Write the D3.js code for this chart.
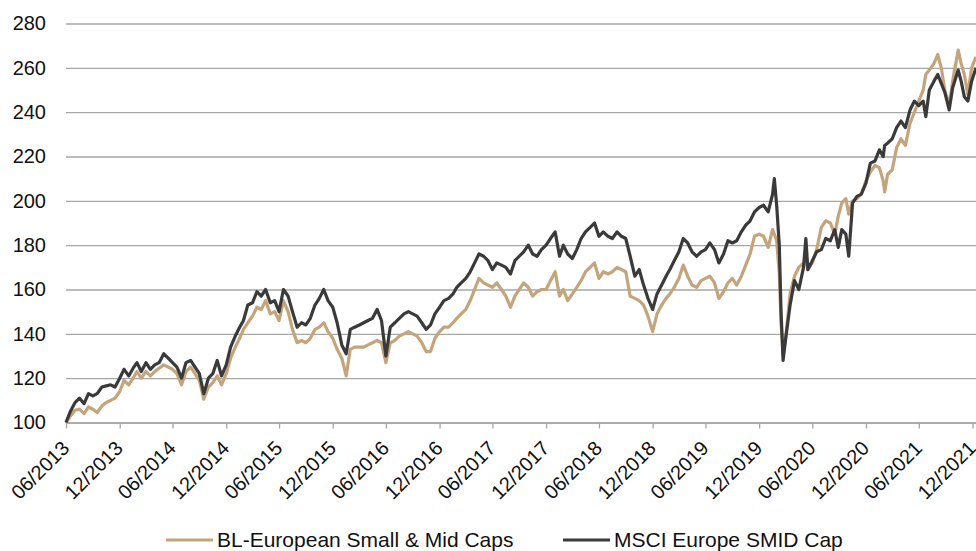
<!DOCTYPE html>
<html>
<head>
<meta charset="utf-8">
<script src="https://cdn.jsdelivr.net/npm/d3@7"></script>
<style>
  body { margin: 0; background: #fff; }
  svg text { font-family: "Liberation Sans", Arial, sans-serif; fill: #111; }
</style>
</head>
<body>
<svg id="chart" width="976" height="551"></svg>
<script>
// series names (legend order)
var seriesNames = ["BL-European Small & Mid Caps", "MSCI Europe SMID Cap"];

// observation dates, read off the chart roughly twice a month
var dates = [
  "2013-06-30","2013-07-15","2013-07-31","2013-08-15","2013-08-31","2013-09-15","2013-09-30","2013-10-15","2013-10-31","2013-11-15","2013-11-30","2013-12-15","2013-12-31",
  "2014-01-15","2014-01-31","2014-02-15","2014-02-28","2014-03-15","2014-03-31","2014-04-15","2014-04-30","2014-05-15","2014-05-31","2014-06-15","2014-06-30",
  "2014-07-15","2014-07-31","2014-08-15","2014-08-31","2014-09-15","2014-09-30","2014-10-15","2014-10-31","2014-11-15","2014-11-30","2014-12-15","2014-12-31",
  "2015-01-15","2015-01-31","2015-02-15","2015-02-28","2015-03-15","2015-03-31","2015-04-15","2015-04-30","2015-05-15","2015-05-31","2015-06-15","2015-06-30",
  "2015-07-15","2015-07-31","2015-08-15","2015-08-31","2015-09-15","2015-09-30","2015-10-15","2015-10-31","2015-11-15","2015-11-30","2015-12-15","2015-12-31",
  "2016-01-15","2016-01-31","2016-02-15","2016-02-29","2016-03-15","2016-03-31","2016-04-15","2016-04-30","2016-05-15","2016-05-31","2016-06-15","2016-06-30",
  "2016-07-15","2016-07-31","2016-08-15","2016-08-31","2016-09-15","2016-09-30","2016-10-15","2016-10-31","2016-11-15","2016-11-30","2016-12-15","2016-12-31",
  "2017-01-15","2017-01-31","2017-02-15","2017-02-28","2017-03-15","2017-03-31","2017-04-15","2017-04-30","2017-05-15","2017-05-31","2017-06-15","2017-06-30",
  "2017-07-15","2017-07-31","2017-08-15","2017-08-31","2017-09-15","2017-09-30","2017-10-15","2017-10-31","2017-11-15","2017-11-30","2017-12-15","2017-12-31",
  "2018-01-15","2018-01-31","2018-02-15","2018-02-28","2018-03-15","2018-03-31","2018-04-15","2018-04-30","2018-05-15","2018-05-31","2018-06-15","2018-06-30",
  "2018-07-15","2018-07-31","2018-08-15","2018-08-31","2018-09-15","2018-09-30","2018-10-15","2018-10-31","2018-11-15","2018-11-30","2018-12-15","2018-12-31",
  "2019-01-15","2019-01-31","2019-02-15","2019-02-28","2019-03-15","2019-03-31","2019-04-15","2019-04-30","2019-05-15","2019-05-31","2019-06-15","2019-06-30",
  "2019-07-15","2019-07-31","2019-08-15","2019-08-31","2019-09-15","2019-09-30","2019-10-15","2019-10-31","2019-11-15","2019-11-30","2019-12-15","2019-12-31",
  "2020-01-15","2020-01-31","2020-02-15","2020-02-21","2020-02-29","2020-03-09","2020-03-15","2020-03-22",
  "2020-03-31","2020-04-15","2020-04-30","2020-05-15","2020-05-31","2020-06-08","2020-06-15","2020-06-30","2020-07-15","2020-07-31",
  "2020-08-15","2020-08-31","2020-09-15","2020-09-27","2020-10-09","2020-10-23","2020-11-02","2020-11-15","2020-11-30","2020-12-15","2020-12-31",
  "2021-01-15","2021-01-31","2021-02-15","2021-02-28","2021-03-05","2021-03-15","2021-03-31","2021-04-15","2021-04-30","2021-05-15",
  "2021-05-31","2021-06-15","2021-06-30","2021-07-15","2021-07-24","2021-08-05","2021-08-21","2021-09-03","2021-09-15","2021-09-27",
  "2021-10-12","2021-10-24","2021-11-12","2021-11-22","2021-12-03","2021-12-15","2021-12-28","2022-01-12"
];

var blValues = [
  100,103,105.5,106,104,107,106,104.5,107.5,109,110,111,114,
  119,117,120,123,120,123,121,123,124.5,126,125,124,
  122,117,123,125,122,119,110.5,116,118,121,117,122,
  129,134,138,142,145,148,152,151,155,149,150,146,
  155,150,142,136,137,136,138,142,143,145,141,138,
  133,129,121,133,134,134,134,135,136,137,136,127,
  136,137,139,140,141,140,139,136,132,132,138,141,
  143,143,145,147,149,151,155,160,165,163,162,161,
  163,160,157,152,157,160,163,161,157,159,160,160,
  164,168,157,160,155,158,161,164,168,170,172,165,
  168,167,168,170,169,168,157,156,155,153,148,141,
  149,153,156,158,161,165,171,166,162,161,164,165,
  166,163,156,159,163,165,162,166,171,176,184,185,
  184,179,187,185,182,167,145,131,
  138,158,166,170,172,173,169,172,178,188,
  191,190,185,193,199,201,194,200,201,203,209,
  213,216,215,209,204,212,214,224,228,225,
  235,240,245,250,257,259,262,266,260,250,
  243,254,268,262,257,248,260,265
];

var msciValues = [
  100,105,109,111,108.5,113,112,113,116,116.5,117,116,120,
  124,121,124.5,127,123,127,124,126,127,131,129,127,
  125,120,127,128,125,122,113,120,122,128,121,126,
  134,139,143,146,153,154,159,157,160,154,155,150,
  160,157,150,143,145,144,147,153,156,160,155,152,
  145,135,131,142,143,144,145,146,147,151,146,130,
  143,145,147,149,150,149,148,145,142,144,149,152,
  155,156,158,161,163,165,168,172,176,175,173,169,
  172,171,170,167,173,175,177,180,176,175,178,180,
  183,186,175,180,176,174,178,183,186,188,190,184,
  186,184,183,186,184,183,175,166,169,162,156,151,
  158,162,166,169,173,177,183,181,177,175,177,178,
  181,178,172,176,182,181,182,186,189,191,195,197,
  198,195,203,210,198,180,150,128,
  138,153,164,160,170,183,169,173,177,178,
  183,182,187,179,187,185,175,199,202,203,208,
  217,218,223,220,225,226,228,233,236,233,
  241,245,243,245,238,250,254,257,253,249,
  241,251,259,254,247,245,254,260
];

var yTicks = [100, 120, 140, 160, 180, 200, 220, 240, 260, 280];
var xTickDates = [
  "2013-06-30","2013-12-31","2014-06-30","2014-12-31","2015-06-30","2015-12-31",
  "2016-06-30","2016-12-31","2017-06-30","2017-12-31","2018-06-30","2018-12-31",
  "2019-06-30","2019-12-31","2020-06-30","2020-12-31","2021-06-30","2021-12-31"
];

var colors = ["#c4a47b", "#3a3a3a"];

var parseDate = d3.timeParse("%Y-%m-%d");
var svg = d3.select("#chart");

var plotLeft = 66, plotRight = 976, plotTop = 23.5, plotBottom = 422.5;

var x = d3.scaleTime()
    .domain([parseDate("2013-06-30"), parseDate("2022-01-12")])
    .range([plotLeft, plotRight]);
var y = d3.scaleLinear()
    .domain([100, 280])
    .range([plotBottom, plotTop]);

// horizontal gridlines + y labels
var yAxis = svg.append("g")
    .attr("transform", "translate(" + plotLeft + ",0)")
    .call(d3.axisLeft(y).tickValues(yTicks).tickSize(-(plotRight - plotLeft)).tickPadding(20).tickFormat(d3.format("d")));
yAxis.select(".domain").remove();
yAxis.selectAll(".tick line").attr("stroke", "#a6a6a6").attr("stroke-width", 1.3);
yAxis.selectAll(".tick text").attr("font-size", "20px").style("font-family", "Liberation Sans, Arial, sans-serif").attr("fill", "#111");

// x axis
var xAxis = svg.append("g")
    .attr("transform", "translate(0," + plotBottom + ")")
    .call(d3.axisBottom(x).tickValues(xTickDates.map(parseDate)).tickSize(6).tickSizeOuter(0).tickFormat(d3.timeFormat("%m/%Y")));
xAxis.select(".domain").attr("stroke", "#a6a6a6").attr("stroke-width", 1.3);
xAxis.selectAll(".tick line").attr("stroke", "#a6a6a6").attr("stroke-width", 1.3);
xAxis.selectAll(".tick text")
    .attr("font-size", "20px")
    .style("font-family", "Liberation Sans, Arial, sans-serif")
    .attr("fill", "#111")
    .attr("text-anchor", "end")
    .attr("dy", null)
    .attr("y", null)
    .attr("transform", "translate(4,27) rotate(-45)");

// lines
var rows = dates.map(function (d, i) {
    return { date: parseDate(d), bl: blValues[i], msci: msciValues[i] };
});

var keys = ["bl", "msci"];
keys.forEach(function (k, i) {
    var line = d3.line()
        .x(function (d) { return x(d.date); })
        .y(function (d) { return y(d[k]); });
    svg.append("path")
        .datum(rows)
        .attr("fill", "none")
        .attr("stroke", colors[i])
        .attr("stroke-width", 3.2)
        .attr("stroke-linejoin", "round")
        .attr("d", line);
});

// legend
var legendItems = [
    { name: seriesNames[0], color: colors[0], x0: 166 },
    { name: seriesNames[1], color: colors[1], x0: 563 }
];
var legend = svg.append("g");
legendItems.forEach(function (it) {
    legend.append("line")
        .attr("x1", it.x0).attr("x2", it.x0 + 47)
        .attr("y1", 540).attr("y2", 540)
        .attr("stroke", it.color)
        .attr("stroke-width", 3);
    legend.append("text")
        .attr("x", it.x0 + 51)
        .attr("y", 547)
        .attr("font-size", "21px")
        .text(it.name);
});
</script>
</body>
</html>
